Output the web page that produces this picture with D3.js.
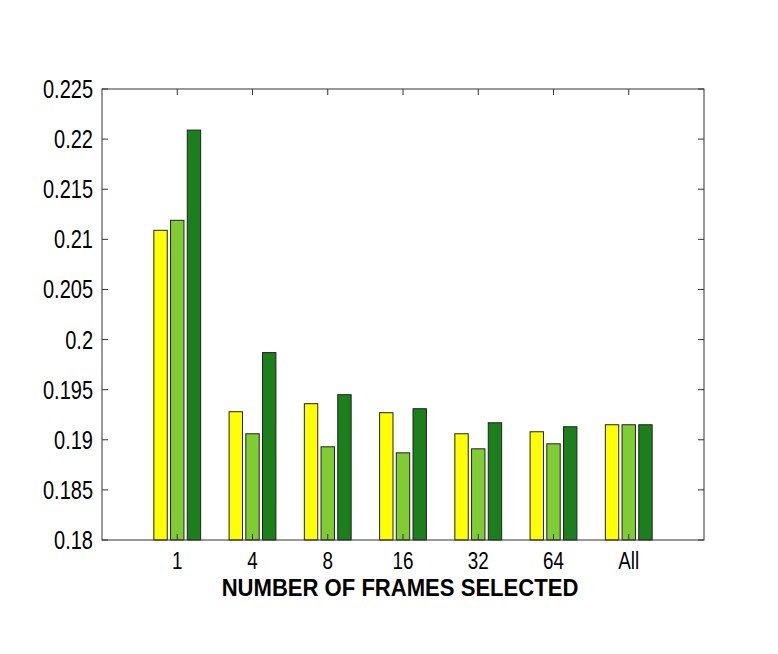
<!DOCTYPE html>
<html lang="en">
<head>
<meta charset="UTF-8">
<title>Number of frames selected</title>
<script src="https://d3js.org/d3.v7.min.js"></script>
<style>
    body { margin: 0; background: #fff; }
    text { font-family: "Liberation Sans", Arial, Helvetica, sans-serif; fill: #000; }
    .ytick { font-size: 25px; }
    .xtick { font-size: 23px; }
    .axis-title { font-size: 23px; font-weight: bold; }
</style>
</head>
<body>
<svg width="778" height="654"></svg>
<script>
    // data
    const categories = ["1", "4", "8", "16", "32", "64", "All"];
    const seriesA = [0.2109, 0.1928, 0.1936, 0.1927, 0.1906, 0.1908, 0.1915];
    const seriesB = [0.2119, 0.1906, 0.1893, 0.1887, 0.1891, 0.1896, 0.1915];
    const seriesC = [0.2209, 0.1987, 0.1945, 0.1931, 0.1917, 0.1913, 0.1915];
    const series = [seriesA, seriesB, seriesC];
    const colors = ["#ffff00", "#80cc33", "#1b7f1b"];
    const yTicks = [0.18, 0.185, 0.19, 0.195, 0.2, 0.205, 0.21, 0.215, 0.22, 0.225];

    const svg = d3.select("svg");
    const mLeft = 102, mRight = 704, mTop = 89, mBottom = 540;

    // matlab style: categories sit at 1..7 on a 0..8 axis
    const x = d3.scaleLinear().domain([0, categories.length + 1]).range([mLeft, mRight]);
    const y = d3.scaleLinear().domain([0.18, 0.225]).range([mBottom, mTop]);

    const offset = 0.222, barW = 0.178;

    const bars = svg.append("g");
    series.forEach(function (vals, s) {
        bars.selectAll(null).data(vals).enter().append("rect")
            .attr("x", function (d, i) { return x(i + 1 + (s - 1) * offset - barW / 2); })
            .attr("width", x(barW) - x(0))
            .attr("y", function (d) { return y(d); })
            .attr("height", function (d) { return y(0.18) - y(d); })
            .attr("fill", colors[s])
            .attr("stroke", "#222")
            .attr("stroke-width", 1);
    });

    // frame + inward ticks
    const tickLen = 6;
    const axes = svg.append("g").attr("stroke", "#333").attr("stroke-width", 1).attr("fill", "none");
    axes.append("rect")
        .attr("x", mLeft).attr("y", mTop)
        .attr("width", mRight - mLeft).attr("height", mBottom - mTop);

    yTicks.forEach(function (t) {
        axes.append("line").attr("x1", mLeft).attr("x2", mLeft + tickLen)
            .attr("y1", y(t)).attr("y2", y(t));
        axes.append("line").attr("x1", mRight).attr("x2", mRight - tickLen)
            .attr("y1", y(t)).attr("y2", y(t));
    });
    categories.forEach(function (c, i) {
        axes.append("line").attr("x1", x(i + 1)).attr("x2", x(i + 1))
            .attr("y1", mTop).attr("y2", mTop + tickLen);
        axes.append("line").attr("x1", x(i + 1)).attr("x2", x(i + 1))
            .attr("y1", mBottom).attr("y2", mBottom - tickLen);
    });

    // labels (the original font is a narrow helvetica, so squeeze horizontally)
    svg.append("g").selectAll("text").data(yTicks).enter().append("text")
        .attr("class", "ytick")
        .attr("transform", function (d) { return "translate(" + (mLeft - 9) + "," + (y(d) + 9) + ") scale(0.8,1)"; })
        .attr("text-anchor", "end")
        .text(function (d) { return String(+d.toFixed(3)); });

    svg.append("g").selectAll("text").data(categories).enter().append("text")
        .attr("class", "xtick")
        .attr("transform", function (d, i) { return "translate(" + x(i + 1) + ",568.5) scale(0.82,1)"; })
        .attr("text-anchor", "middle")
        .text(function (d) { return d; });

    svg.append("text")
        .attr("class", "axis-title")
        .attr("transform", "translate(400,596) scale(0.96,1)")
        .attr("text-anchor", "middle")
        .text("NUMBER OF FRAMES SELECTED");
</script>
</body>
</html>
